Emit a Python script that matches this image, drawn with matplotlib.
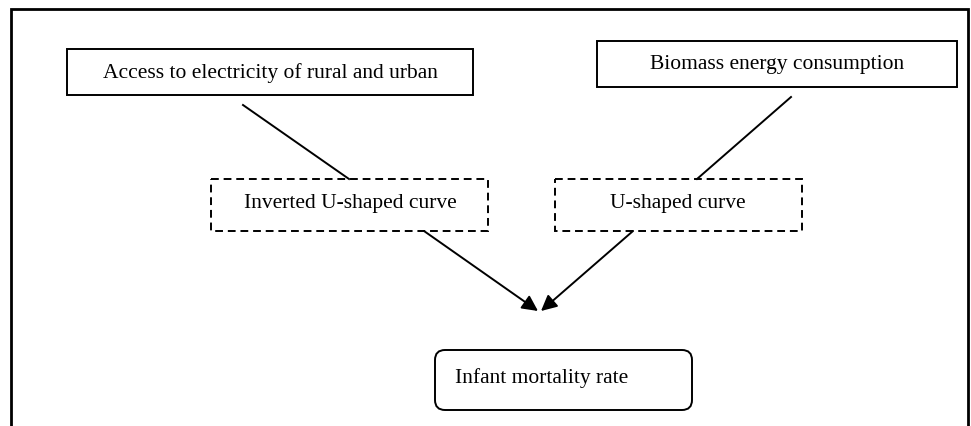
import matplotlib
matplotlib.use("Agg")
import matplotlib.pyplot as plt
from matplotlib.patches import Rectangle, FancyBboxPatch

# box labels
source_labels = ["Access to electricity of rural and urban", "Biomass energy consumption"]
shape_labels = ["Inverted U-shaped curve", "U-shaped curve"]
target_label = "Infant mortality rate"

plt.rcParams['font.family'] = ['Liberation Serif', 'DejaVu Serif']

fig = plt.figure(figsize=(9.71, 4.27), dpi=100)
ax = fig.add_axes([0, 0, 1, 1])
ax.set_xlim(0, 971)
ax.set_ylim(427, 0)
ax.axis('off')

fs = 15.5
lw = 1.4

# outer frame (open at the bottom)
ax.plot([11, 11, 968, 968], [430, 9.5, 9.5, 430], color='black', lw=2.0, solid_joinstyle='miter')

# source boxes
src_boxes = [(67, 50, 406, 46), (597, 42, 360, 46)]
src_text = [(270, 73), (777, 65)]
for (x, y, w, h), (tx, ty), lab in zip(src_boxes, src_text, source_labels):
    ax.add_patch(Rectangle((x, y), w, h, fill=False, ec='black', lw=lw))
    ax.text(tx, ty, lab, ha='center', va='center', fontsize=fs)

# dashed boxes
dash_boxes = [(211, 180, 277, 52), (555, 180, 247, 52)]
dash_text = [(350, 204), (678, 204)]
for (x, y, w, h), (tx, ty), lab in zip(dash_boxes, dash_text, shape_labels):
    ax.add_patch(Rectangle((x, y), w, h, fill=False, ec='black', lw=lw,
                           ls=(0, (4, 2.5))))
    ax.text(tx, ty, lab, ha='center', va='center', fontsize=fs)

# connecting lines
ax.plot([243, 349], [106, 180], color='black', lw=lw)
ax.plot([791, 697], [98, 180], color='black', lw=lw)

# arrows into target
for x0, x1 in [(424, 538), (633, 541)]:
    ax.annotate('', xy=(x1, 312), xytext=(x0, 232),
                arrowprops=dict(arrowstyle='-|>,head_length=0.5,head_width=0.25',
                                color='black', lw=lw,
                                mutation_scale=19, shrinkA=0, shrinkB=0))

# target box
ax.add_patch(FancyBboxPatch((435, 351), 257, 60, boxstyle='round,pad=0,rounding_size=10',
                            fill=False, ec='black', lw=lw))
ax.text(455, 378, target_label, ha='left', va='center', fontsize=fs)

fig.savefig('out.png', dpi=100)
